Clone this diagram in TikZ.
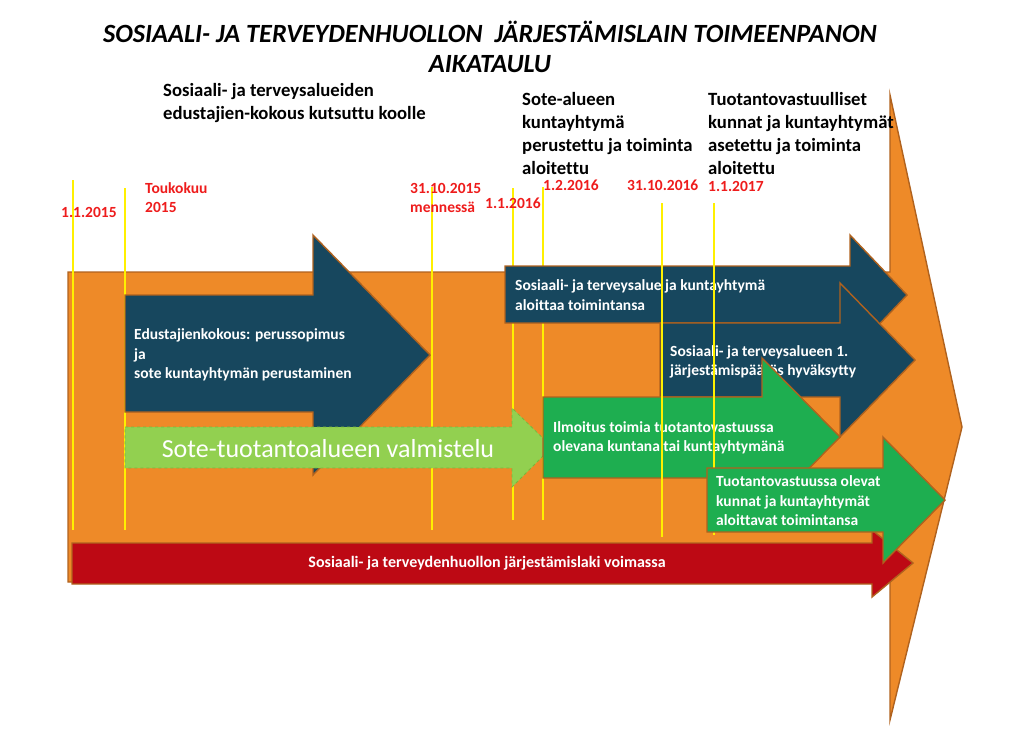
\documentclass[tikz,border=0pt]{standalone}
\usepackage{fontspec}
\setmainfont{Carlito}[Ligatures={NoCommon}]
\usepackage{tikz}
\usetikzlibrary{calc}
\definecolor{sotebg}{HTML}{EE8A28}
\definecolor{rimbrown}{HTML}{B0621E}
\definecolor{sotenavy}{HTML}{17475E}
\definecolor{sotegreen}{HTML}{1EAE50}
\definecolor{sotered}{HTML}{BD0914}
\definecolor{sotelime}{HTML}{92D050}
\definecolor{prepline}{HTML}{78B83C}
\definecolor{dateyellow}{HTML}{FFF000}
\definecolor{datered}{HTML}{EE1C1C}

\begin{document}
\begin{tikzpicture}[x=1pt, y=-1pt,
    shapeline/.style={draw=rimbrown, line width=1.4pt, line join=miter},
    bigarr/.style={shapeline, fill=sotebg},
    bluearr/.style={shapeline, fill=sotenavy},
    greenarr/.style={shapeline, fill=sotegreen},
    redarr/.style={shapeline, fill=sotered},
    prepare/.style={draw=prepline, dashed, line width=0.8pt, fill=sotelime},
    dateline/.style={draw=dateyellow, line width=1.5pt},
    datelbl/.style={anchor=west, align=left, inner sep=0pt, text=datered, font=\fontsize{15.5}{19}\selectfont\bfseries},
    milestone/.style={anchor=west, align=left, inner sep=0pt, font=\fontsize{18.7}{23}\selectfont\bfseries},
    arrtext/.style={anchor=west, align=left, inner sep=0pt, text=white, font=\fontsize{15.5}{19.5}\selectfont\bfseries}
]
\useasboundingbox (0,0) rectangle (1024,737);

\node[align=center, font=\fontsize{26.3}{30}\selectfont\bfseries\itshape] (title) at (490,47) {SOSIAALI- JA TERVEYDENHUOLLON\ \ JÄRJESTÄMISLAIN TOIMEENPANON\\AIKATAULU};

% big background arrow
\draw[bigarr] (68,272) -- (890,272) -- (890,95) -- (962,427) -- (890,720) -- (890,582) -- (68,582) -- cycle;

\foreach \x/\ya/\yb in {73/180/530, 125/188/530, 432/187/530, 513/188/520, 543/187/520}
  \draw[dateline] (\x,\ya) -- (\x,\yb);

% edustajienkokous
\draw[bluearr] (125,295) -- (313,295) -- (313,235) -- (430,355) -- (313,475) -- (313,412) -- (125,412) -- cycle;
\node[arrtext] (meeting) at (134,355) {Edustajienkokous: perussopimus\\ja\\sote kuntayhtymän perustaminen};

% valmistelu
\draw[prepare] (125,427) -- (512,427) -- (512,408) -- (552,447) -- (512,487) -- (512,468) -- (125,468) -- cycle;
\node[font=\fontsize{26}{30}\selectfont, text=white, inner sep=0pt] (prep) at (328,449) {Sote-tuotantoalueen valmistelu};

% 2016
\draw[bluearr] (505,266) -- (850,266) -- (850,235) -- (907,295) -- (850,355) -- (850,323) -- (505,323) -- cycle;
\node[arrtext] (startjoint) at (515,295) {Sosiaali- ja terveysalue ja kuntayhtymä\\aloittaa toimintansa};

\draw[bluearr] (660,323) -- (840,323) -- (840,283) -- (915,360) -- (840,437) -- (840,397) -- (660,397) -- cycle;
\node[arrtext] (decision) at (670,362) {Sosiaali- ja terveysalueen 1.\\järjestämispäätös hyväksytty};

\draw[greenarr] (543,397) -- (762,397) -- (762,358) -- (840,437) -- (762,516) -- (762,478) -- (543,478) -- cycle;
\node[arrtext] (notice) at (553,438) {Ilmoitus toimia tuotantovastuussa\\olevana kuntana tai kuntayhtymänä};

\foreach \x/\ya/\yb in {662/203/537, 714/203/535}
  \draw[dateline] (\x,\ya) -- (\x,\yb);

% laki voimassa
\draw[redarr] (72,543) -- (872,543) -- (872,530) -- (913,563) -- (872,597) -- (872,584) -- (72,584) -- cycle;
\node[arrtext, anchor=center, font=\fontsize{16}{18}\selectfont\bfseries] (law) at (487,563) {Sosiaali- ja terveydenhuollon järjestämislaki voimassa};

% 2017
\draw[greenarr] (707,468) -- (883,468) -- (883,437) -- (945,500) -- (883,563) -- (883,532) -- (707,532) -- cycle;
\node[arrtext] (producers) at (716,501) {Tuotantovastuussa olevat\\kunnat ja kuntayhtymät\\aloittavat toimintansa};

% dates
\node[datelbl] (d1) at (61,212) {1.1.2015};
\node[datelbl] (d2) at (145,197.5) {Toukokuu\\2015};
\node[datelbl] (d3) at (410,197.5) {31.10.2015\\mennessä};
\node[datelbl] (d4) at (485,203) {1.1.2016};
\node[datelbl] (d5) at (543,185) {1.2.2016};
\node[datelbl] (d6) at (627,185) {31.10.2016};
\node[datelbl] (d7) at (708,186) {1.1.2017};

% milestones
\node[milestone] (m1) at (163,103.5) {Sosiaali- ja terveysalueiden\\edustajien-kokous kutsuttu koolle};
\node[milestone] (m2) at (522,134) {Sote-alueen\\kuntayhtymä\\perustettu ja toiminta\\aloitettu};
\node[milestone] (m3) at (708,134) {Tuotantovastuulliset\\kunnat ja kuntayhtymät\\asetettu ja toiminta\\aloitettu};
\end{tikzpicture}
\end{document}
